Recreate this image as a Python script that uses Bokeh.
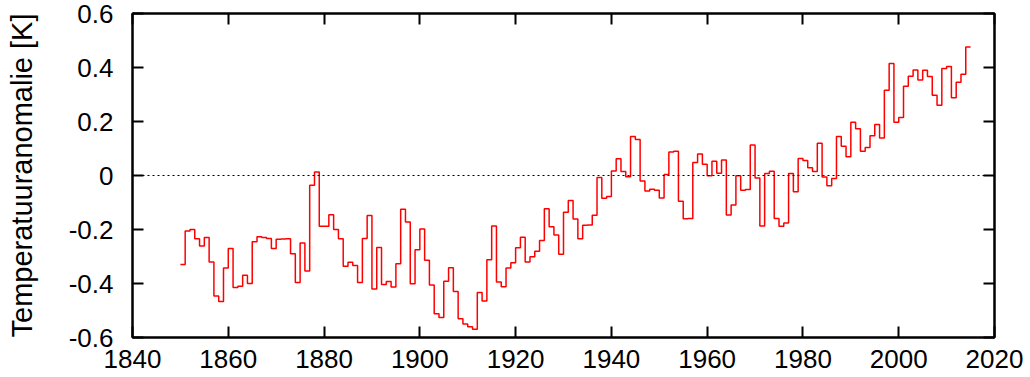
from bokeh.plotting import figure
from bokeh.models import Span, LinearAxis, FixedTicker, Range1d
from bokeh.embed import file_html
from bokeh.resources import INLINE

start_year = 1850
anomaly = [
    -0.33, -0.206, -0.20, -0.234, -0.261, -0.23, -0.32, -0.446, -0.467, -0.343,
    -0.27, -0.415, -0.41, -0.369, -0.40, -0.245, -0.227, -0.23, -0.233, -0.27,
    -0.236, -0.235, -0.234, -0.29, -0.396, -0.25, -0.354, -0.036, 0.013, -0.188,
    -0.188, -0.145, -0.20, -0.234, -0.336, -0.321, -0.333, -0.396, -0.233, -0.148,
    -0.42, -0.267, -0.404, -0.393, -0.413, -0.327, -0.125, -0.172, -0.401, -0.275,
    -0.198, -0.314, -0.406, -0.512, -0.526, -0.392, -0.342, -0.43, -0.531, -0.55,
    -0.56, -0.569, -0.433, -0.465, -0.312, -0.187, -0.394, -0.412, -0.343, -0.323,
    -0.268, -0.229, -0.32, -0.301, -0.281, -0.241, -0.123, -0.19, -0.22, -0.292,
    -0.136, -0.093, -0.161, -0.234, -0.184, -0.183, -0.147, -0.007, -0.084, -0.078,
    0.017, 0.062, 0.015, -0.005, 0.144, 0.133, -0.02, -0.057, -0.051, -0.055,
    -0.083, 0.004, 0.087, 0.09, -0.095, -0.16, -0.159, 0.048, 0.08, 0.042,
    -0.001, 0.053, 0.008, 0.057, -0.146, -0.109, -0.001, -0.055, -0.052, 0.113,
    -0.009, -0.187, 0.007, 0.016, -0.159, -0.188, -0.176, 0.007, -0.06, 0.063,
    0.056, 0.029, 0.015, 0.119, -0.006, -0.038, -0.011, 0.144, 0.108, 0.069,
    0.197, 0.173, 0.09, 0.104, 0.147, 0.189, 0.139, 0.316, 0.415, 0.197,
    0.215, 0.331, 0.368, 0.391, 0.354, 0.39, 0.367, 0.297, 0.26, 0.396,
    0.404, 0.288, 0.345, 0.375, 0.476,
]
years = list(range(start_year, start_year + len(anomaly)))

x_ticks = [1840, 1860, 1880, 1900, 1920, 1940, 1960, 1980, 2000, 2020]
y_ticks = [-0.6, -0.4, -0.2, 0.0, 0.2, 0.4, 0.6]
y_tick_labels = ["-0.6", "-0.4", "-0.2", "0", "0.2", "0.4", "0.6"]
y_label = "Temperatuuranomalie [K]"

FONT = "Liberation Sans"
FS = "26px"

p = figure(width=1030, height=377, output_backend="svg", toolbar_location=None,
           x_range=Range1d(1840, 2020), y_range=Range1d(-0.6, 0.6),
           min_border_left=132, min_border_right=36, min_border_top=13, min_border_bottom=40)
p.background_fill_color = "white"
p.border_fill_color = "white"
p.grid.visible = False
p.outline_line_color = "black"
p.outline_line_width = 2

# step edges: each year's value spans [year, year+1]
edges = years + [years[-1] + 1]
vals = anomaly + [anomaly[-1]]
p.step(edges, vals, mode="after", line_color="#ff0000", line_width=1.5)

p.add_layout(Span(location=0, dimension="width", line_color="black",
                  line_dash="2 3", line_width=1))

def style(ax, labels=True):
    ax.major_tick_in = 11
    ax.major_tick_out = 0
    ax.minor_tick_line_color = None
    ax.axis_line_color = "black"
    ax.axis_line_width = 2
    ax.major_tick_line_color = "black"
    ax.major_tick_line_width = 2
    ax.major_label_text_font = FONT
    ax.major_label_text_font_size = FS
    ax.major_label_text_color = "black" if labels else None

xa = p.xaxis[0]
xa.ticker = FixedTicker(ticks=x_ticks)
style(xa)
xa.major_label_standoff = 12

ya = p.yaxis[0]
ya.ticker = FixedTicker(ticks=y_ticks)
ya.major_label_overrides = {t: l for t, l in zip(y_ticks, y_tick_labels)}
style(ya)
ya.major_label_standoff = 19
ya.axis_label = y_label
ya.axis_label_text_font = FONT
ya.axis_label_text_font_size = "29px"
ya.axis_label_text_font_style = "normal"
ya.axis_label_text_color = "black"
ya.axis_label_standoff = 28

top = LinearAxis(ticker=FixedTicker(ticks=x_ticks))
style(top, labels=False)
top.major_label_text_font_size = "0px"
top.major_label_standoff = 0
p.add_layout(top, "above")

right = LinearAxis(ticker=FixedTicker(ticks=y_ticks))
style(right, labels=False)
right.major_label_text_font_size = "0px"
right.major_label_standoff = 0
p.add_layout(right, "right")

open("out.html", "w").write(file_html(p, INLINE))
